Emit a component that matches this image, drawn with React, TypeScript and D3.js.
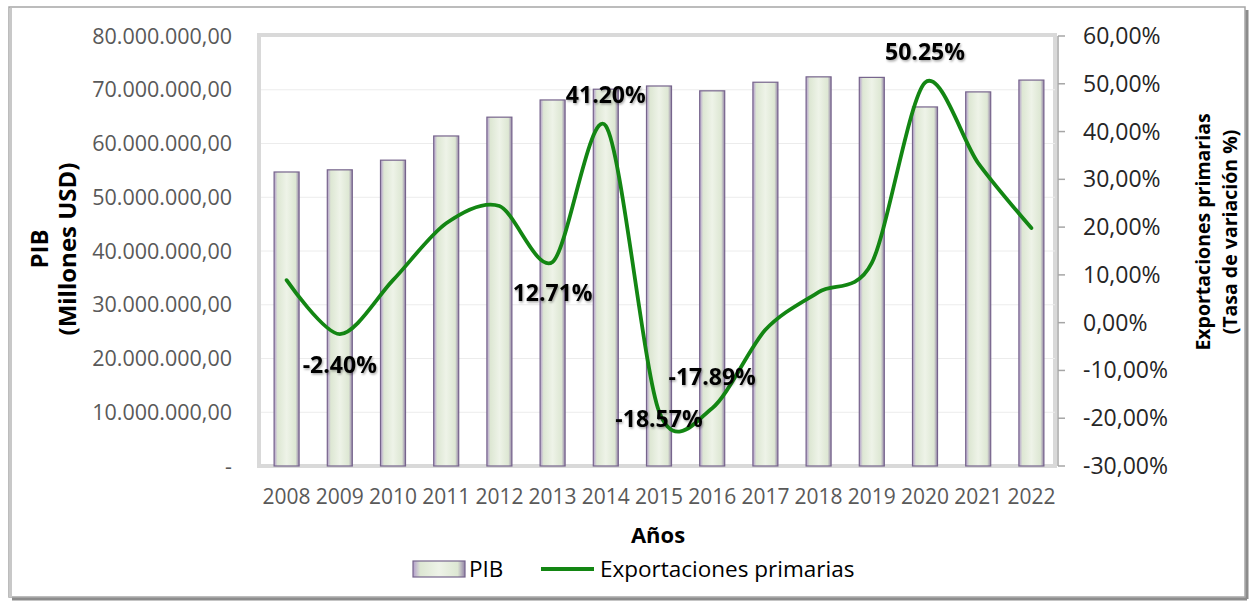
import React from 'react'
import * as d3 from 'd3'

// datos
const years = ['2008', '2009', '2010', '2011', '2012', '2013', '2014', '2015', '2016', '2017', '2018', '2019', '2020', '2021', '2022']
const pib = [54.7e6, 55.1e6, 56.9e6, 61.4e6, 64.9e6, 68.1e6, 70.1e6, 70.7e6, 69.8e6, 71.4e6, 72.4e6, 72.3e6, 66.8e6, 69.6e6, 71.8e6]
const exportaciones = [8.9, -2.4, 8.9, 20.8, 24.4, 12.71, 41.2, -18.57, -17.89, -1.5, 6.4, 12.5, 50.25, 33.4, 19.8]
const pibTicks = [0, 10e6, 20e6, 30e6, 40e6, 50e6, 60e6, 70e6, 80e6]
const pctTicks = [-30, -20, -10, 0, 10, 20, 30, 40, 50, 60]
const labeledYears = ['2009', '2013', '2014', '2015', '2016', '2020']
const labelPlacement = ['below', 'below', 'above', 'center', 'above', 'above']

const W = 1253
const H = 603
const left = 260
const right = 1058
const top = 36
const bottom = 466
const FONT = '"Open Sans", sans-serif'

const es = d3.formatLocale({ decimal: ',', thousands: '.', grouping: [3], currency: ['', ''], minus: '-' })
const en = d3.formatLocale({ decimal: '.', thousands: ',', grouping: [3], currency: ['', ''], minus: '-' })
const fmtPib = (v: number) => (v === 0 ? '-' : es.format(',.2f')(v))
const fmtPct = (v: number) => es.format('.2f')(v) + '%'
const fmtLabel = (v: number) => en.format('.2f')(v) + '%'

export default function App() {
  const x = d3.scaleBand().domain(years).range([left, right]).paddingInner(0.53).paddingOuter(0.265)
  const cx = (y: string) => (x(y) as number) + x.bandwidth() / 2
  const yPib = d3.scaleLinear().domain([0, 80e6]).range([bottom, top])
  const yPct = d3.scaleLinear().domain([-30, 60]).range([bottom, top])

  const line = d3.line<number>()
    .x((_, i) => cx(years[i]))
    .y(d => yPct(d))
    .curve(d3.curveCardinal.tension(0.12))

  return (
    <svg width={W} height={H} style={{ position: 'absolute', left: 0, top: 0, background: '#fff' }} fontFamily={FONT}>
      <defs>
        <linearGradient id="barGrad" x1="0" x2="1" y1="0" y2="0">
          <stop offset="0" stopColor="#b39dcc" />
          <stop offset="0.14" stopColor="#dde7d3" />
          <stop offset="0.5" stopColor="#eef3e8" />
          <stop offset="0.86" stopColor="#dde7d3" />
          <stop offset="1" stopColor="#9483a8" />
        </linearGradient>
        <filter id="txtShadow" x="-10%" y="-30%" width="130%" height="160%">
          <feDropShadow dx="1" dy="1.5" stdDeviation="1" floodColor="#000" floodOpacity="0.35" />
        </filter>
      </defs>

      {/* marco exterior */}
      <rect x={9} y={7} width={1236} height={590} fill="#fff" stroke="#a6a6a6" strokeWidth={1.5} />
      <line x1={1247} y1={10} x2={1247} y2={599} stroke="#8c8c8c" strokeWidth={3} />
      <line x1={12} y1={599} x2={1247} y2={599} stroke="#8c8c8c" strokeWidth={3} />
      <line x1={10.5} y1={8} x2={10.5} y2={597} stroke="#c8c8c8" strokeWidth={3} />

      {/* pared del gráfico */}
      <rect x={left - 1} y={top - 1} width={right - left - 2} height={bottom - top + 1} fill="none" stroke="#d9d9d9" strokeWidth={4} />

      {/* rejilla */}
      {pibTicks.slice(1, -1).map(t => (
        <line key={t} x1={left + 1} x2={right - 3} y1={yPib(t)} y2={yPib(t)} stroke="#ececec" strokeWidth={1} />
      ))}

      {/* barras PIB */}
      {pib.map((v, i) => (
        <rect key={years[i]} x={x(years[i])} y={yPib(v)} width={x.bandwidth()} height={bottom - yPib(v)}
          fill="url(#barGrad)" stroke="#76648c" strokeWidth={1.2} />
      ))}

      {/* eje izquierdo */}
      {pibTicks.map(t => (
        <text key={t} x={232} y={yPib(t)} dy="0.35em" textAnchor="end" fontSize={21.5} fill="#595959">{fmtPib(t)}</text>
      ))}

      {/* eje derecho */}
      <line x1={right} x2={right} y1={top} y2={bottom} stroke="#a6a6a6" strokeWidth={1.5} />
      {pctTicks.map(t => (
        <g key={t}>
          <line x1={right} x2={right + 7} y1={yPct(t)} y2={yPct(t)} stroke="#a6a6a6" strokeWidth={1.5} />
          <text x={1083} y={yPct(t)} dy="0.35em" fontSize={23} fill="#262626">{fmtPct(t)}</text>
        </g>
      ))}

      {/* eje x */}
      {years.map(y => (
        <text key={y} x={cx(y)} y={497} dy="0.35em" textAnchor="middle" fontSize={21} fill="#595959">{y}</text>
      ))}

      {/* línea exportaciones */}
      <path d={line(exportaciones) || ''} fill="none" stroke="#138613" strokeWidth={3.8} strokeLinejoin="round" strokeLinecap="round" />

      {/* etiquetas de datos */}
      {labeledYears.map((y, k) => {
        const i = years.indexOf(y)
        const px = cx(y)
        const py = yPct(exportaciones[i])
        const pos = labelPlacement[k]
        const ly = pos === 'above' ? py - 31 : pos === 'below' ? py + 31 : py + 8
        return (
          <text key={y} x={px} y={ly} dy="0.35em" textAnchor="middle" fontSize={23} fontWeight="bold"
            fill="#000" filter="url(#txtShadow)">{fmtLabel(exportaciones[i])}</text>
        )
      })}

      {/* títulos de ejes */}
      <text x={658} y={535} dy="0.35em" textAnchor="middle" fontSize={22} fontWeight="bold" fill="#000">Años</text>
      <g transform="translate(54,249) rotate(-90)">
        <text y={-14} dy="0.35em" textAnchor="middle" fontSize={24} fontWeight="bold" fill="#000">PIB</text>
        <text y={14} dy="0.35em" textAnchor="middle" fontSize={24} fontWeight="bold" fill="#000">(Millones USD)</text>
      </g>
      <g transform="translate(1216,232) rotate(-90)">
        <text y={-13} dy="0.35em" textAnchor="middle" fontSize={19.5} fontWeight="bold" fill="#000">Exportaciones primarias</text>
        <text y={14} dy="0.35em" textAnchor="middle" fontSize={19.5} fontWeight="bold" fill="#000">(Tasa de variación %)</text>
      </g>

      {/* leyenda */}
      <rect x={413} y={561} width={52} height={16} fill="url(#barGrad)" stroke="#76648c" strokeWidth={1.2} />
      <text x={469} y={569} dy="0.35em" fontSize={22.5} fill="#000">PIB</text>
      <line x1={541} x2={594} y1={569} y2={569} stroke="#138613" strokeWidth={3.8} />
      <text x={600} y={569} dy="0.35em" fontSize={22.5} fill="#000">Exportaciones primarias</text>
    </svg>
  )
}
